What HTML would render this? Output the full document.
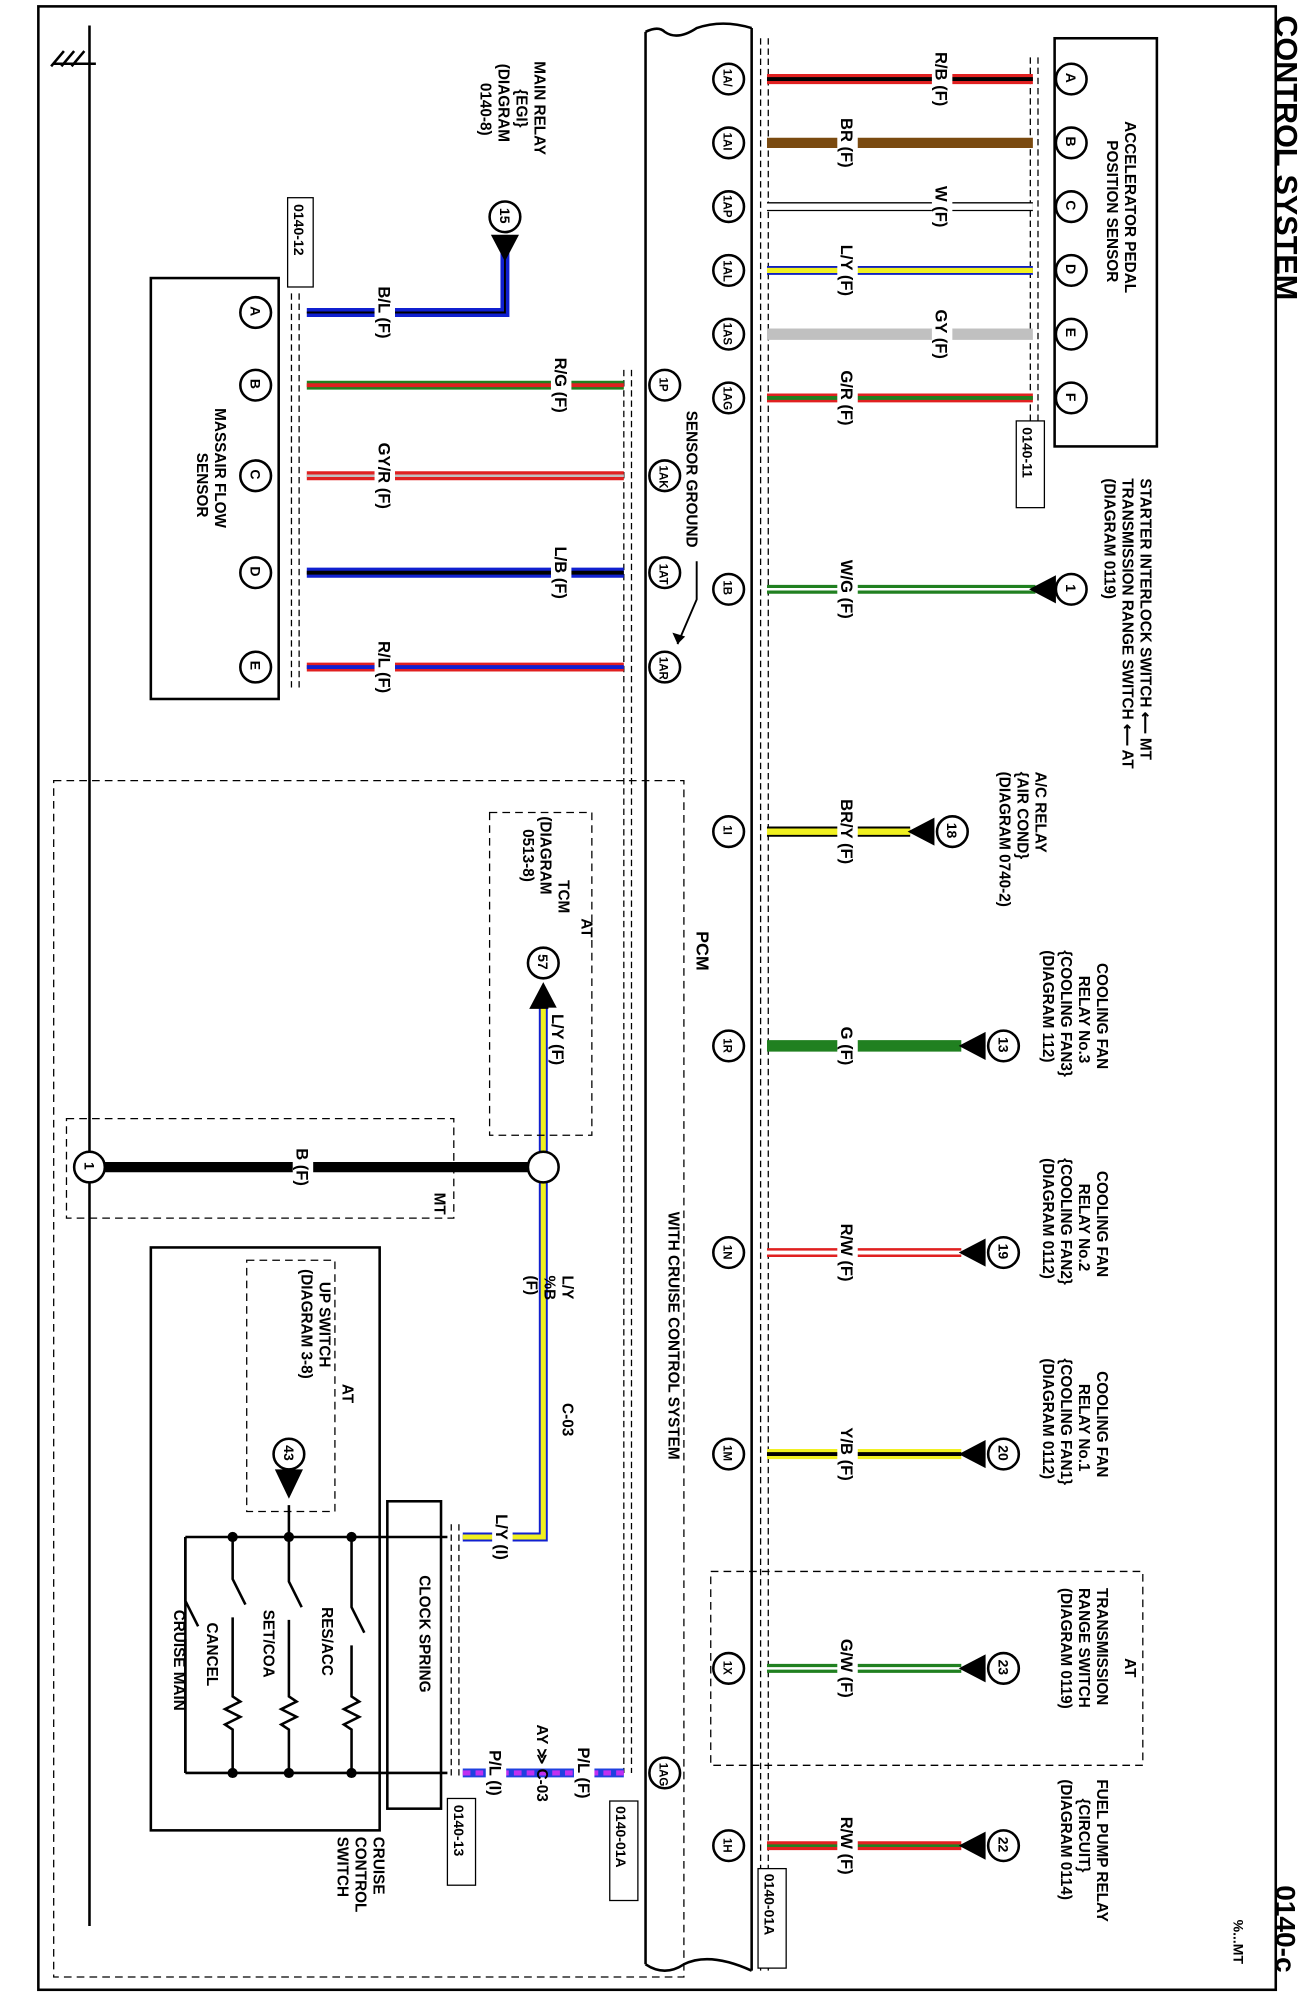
<!DOCTYPE html>
<html><head><meta charset="utf-8"><style>
html,body{margin:0;padding:0;background:#fff;}
svg{display:block;}
text{font-family:"Liberation Sans",sans-serif;font-weight:bold;fill:#000;}
.wl text{text-anchor:middle;}
</style></head><body>
<svg width="1309" height="2000" viewBox="0 0 1024 1568" preserveAspectRatio="none" xmlns="http://www.w3.org/2000/svg">
<rect x="0" y="0" width="1024" height="1568" fill="#fff"/>
<rect x="30" y="5" width="968" height="1555" fill="none" stroke="#000" stroke-width="2"/>
<text font-size="24" font-weight="normal" transform="translate(998,12) rotate(90)">CONTROL SYSTEM</text>
<text font-size="22" font-weight="normal" transform="translate(998,1478) rotate(90)">0140-c</text>
<text font-size="11" font-weight="normal" transform="translate(965,1505) rotate(90)">%...MT</text>
<g stroke="#000" stroke-width="2" fill="none">
<path d="M70,20 V1510"/><path d="M42,50 H75"/><path d="M50,40 L40,52 M58,40 L48,52 M66,40 L56,52"/>
</g>
<g stroke="#000" stroke-width="2" fill="none">
<path d="M505,25 Q515,20 520,25 Q530,32 545,22 Q565,15 588,22"/>
<path d="M505,25 V1540"/><path d="M588,22 V1545"/>
<path d="M505,1540 Q520,1550 535,1540 Q555,1530 588,1545"/>
</g>
<text font-size="14" transform="translate(545,730) rotate(90)">PCM</text>
<text font-size="12" transform="translate(523,950) rotate(90)">WITH CRUISE CONTROL SYSTEM</text>
<text font-size="12" transform="translate(537,322) rotate(90)">SENSOR GROUND</text>
<path d="M545,440 V470 L530,505" stroke="#000" fill="none" stroke-width="1.5"/>
<polygon points="530,505 526,496 536,499" fill="#000"/>
<g stroke="#000" stroke-width="1" stroke-dasharray="5,3" fill="none">
<path d="M595,30 V1545"/><path d="M601,30 V1545"/>
<path d="M488,290 V1390"/><path d="M494,290 V1390"/>
<path d="M228,230 V540"/><path d="M234,230 V540"/>
<path d="M806,45 V330"/><path d="M812,45 V330"/>
<path d="M353,1195 V1395"/><path d="M359,1195 V1395"/>
</g>
<rect x="825" y="30" width="80" height="320" fill="none" stroke="#000" stroke-width="2"/>
<text font-size="12" transform="translate(880,95) rotate(90)">ACCELERATOR PEDAL</text>
<text font-size="12" transform="translate(866,110) rotate(90)">POSITION SENSOR</text>
<rect x="795" y="330" width="22" height="68" fill="#fff" stroke="#000"/>
<text font-size="11" transform="translate(800,335) rotate(90)">0140-11</text>
<g stroke-linecap="butt">
<line x1="600" y1="62" x2="808" y2="62" stroke="#e02020" stroke-width="8"/><line x1="600" y1="62" x2="808" y2="62" stroke="#000" stroke-width="3"/>
<line x1="600" y1="112" x2="808" y2="112" stroke="#7a4a10" stroke-width="8"/>
<line x1="600" y1="162" x2="808" y2="162" stroke="#000" stroke-width="7"/><line x1="600" y1="162" x2="808" y2="162" stroke="#fff" stroke-width="5"/>
<line x1="600" y1="212" x2="808" y2="212" stroke="#1020c0" stroke-width="7"/><line x1="600" y1="212" x2="808" y2="212" stroke="#f0f020" stroke-width="4"/>
<line x1="600" y1="262" x2="808" y2="262" stroke="#c0c0c0" stroke-width="9"/>
<line x1="600" y1="312" x2="808" y2="312" stroke="#e02020" stroke-width="7"/><line x1="600" y1="312" x2="808" y2="312" stroke="#208020" stroke-width="3"/>
<line x1="600" y1="462" x2="810" y2="462" stroke="#208020" stroke-width="7"/><line x1="600" y1="462" x2="810" y2="462" stroke="#fff" stroke-width="2"/>
<line x1="600" y1="652" x2="712" y2="652" stroke="#000" stroke-width="8"/><line x1="600" y1="652" x2="712" y2="652" stroke="#f0f020" stroke-width="5"/>
<line x1="600" y1="820" x2="752" y2="820" stroke="#208020" stroke-width="9"/>
<line x1="600" y1="982" x2="752" y2="982" stroke="#e02020" stroke-width="7"/><line x1="600" y1="982" x2="752" y2="982" stroke="#fff" stroke-width="3"/>
<line x1="600" y1="1140" x2="752" y2="1140" stroke="#f0f020" stroke-width="8"/><line x1="600" y1="1140" x2="752" y2="1140" stroke="#000" stroke-width="3"/>
<line x1="600" y1="1308" x2="752" y2="1308" stroke="#208020" stroke-width="7"/><line x1="600" y1="1308" x2="752" y2="1308" stroke="#fff" stroke-width="2"/>
<line x1="600" y1="1447" x2="752" y2="1447" stroke="#e02020" stroke-width="7"/><line x1="600" y1="1447" x2="752" y2="1447" stroke="#208020" stroke-width="2"/>
</g>
<g fill="#000">
<polygon points="805,462 826,451 826,473"/>
<polygon points="710,652 731,641 731,663"/>
<polygon points="750,820 771,809 771,831"/>
<polygon points="750,982 771,971 771,993"/>
<polygon points="750,1140 771,1129 771,1151"/>
<polygon points="750,1308 771,1297 771,1319"/>
<polygon points="750,1447 771,1436 771,1458"/>
</g>
<g>
<path d="M240,245 H395 V185" fill="none" stroke="#1020d0" stroke-width="7"/><path d="M240,245 H395 V185" fill="none" stroke="#000" stroke-width="1.5"/>
<polygon points="395,205 384,184 406,184" fill="#000"/>
<line x1="240" y1="302" x2="488" y2="302" stroke="#208020" stroke-width="7"/><line x1="240" y1="302" x2="488" y2="302" stroke="#e02020" stroke-width="3"/>
<line x1="240" y1="373" x2="488" y2="373" stroke="#e02020" stroke-width="7"/><line x1="240" y1="373" x2="488" y2="373" stroke="#c0c0c0" stroke-width="2"/>
<line x1="240" y1="449" x2="488" y2="449" stroke="#1020d0" stroke-width="8"/><line x1="240" y1="449" x2="488" y2="449" stroke="#000" stroke-width="3"/>
<line x1="240" y1="523" x2="488" y2="523" stroke="#e02020" stroke-width="7"/><line x1="240" y1="523" x2="488" y2="523" stroke="#1020d0" stroke-width="3"/>
<path d="M425,790 V1205 H362" fill="none" stroke="#1020d0" stroke-width="7"/><path d="M425,790 V1205 H362" fill="none" stroke="#f0f020" stroke-width="4"/>
<line x1="70" y1="915" x2="425" y2="915" stroke="#000" stroke-width="8"/>
<line x1="362" y1="1390" x2="488" y2="1390" stroke="#2040e0" stroke-width="7"/><line x1="362" y1="1390" x2="488" y2="1390" stroke="#c030f0" stroke-width="4" stroke-dasharray="6,4"/>
</g>
<polygon points="425,770 414,791 436,791" fill="#000"/>
<circle cx="425" cy="915" r="12" fill="#fff" stroke="#000" stroke-width="2"/>
<!-- label gaps -->
<g fill="#fff">
<rect x="729" y="37" width="16" height="50"/>
<rect x="655" y="90" width="16" height="44"/>
<rect x="729" y="143" width="16" height="38"/>
<rect x="655" y="188" width="16" height="48"/>
<rect x="729" y="240" width="16" height="44"/>
<rect x="655" y="287" width="16" height="50"/>
<rect x="655" y="436" width="16" height="52"/>
<rect x="655" y="623" width="16" height="58"/>
<rect x="655" y="802" width="16" height="36"/>
<rect x="655" y="956" width="16" height="52"/>
<rect x="655" y="1115" width="16" height="50"/>
<rect x="655" y="1282" width="16" height="52"/>
<rect x="655" y="1421" width="16" height="52"/>
<rect x="293" y="220" width="16" height="50"/>
<rect x="431" y="276" width="16" height="52"/>
<rect x="293" y="343" width="16" height="60"/>
<rect x="431" y="425" width="16" height="48"/>
<rect x="293" y="499" width="16" height="48"/>
<rect x="229" y="897" width="16" height="36"/>
<rect x="385" y="1182" width="16" height="46"/>
<rect x="449" y="1366" width="16" height="48"/>
<rect x="380" y="1368" width="16" height="44"/>
<rect x="429" y="790" width="16" height="50"/>
</g>
<g font-size="13" class="wl">
<text transform="translate(732,62) rotate(90)">R/B (F)</text>
<text transform="translate(658,112) rotate(90)">BR (F)</text>
<text transform="translate(732,162) rotate(90)">W (F)</text>
<text transform="translate(658,212) rotate(90)">L/Y (F)</text>
<text transform="translate(732,262) rotate(90)">GY (F)</text>
<text transform="translate(658,312) rotate(90)">G/R (F)</text>
<text transform="translate(658,462) rotate(90)">W/G (F)</text>
<text transform="translate(658,652) rotate(90)">BR/Y (F)</text>
<text transform="translate(658,820) rotate(90)">G (F)</text>
<text transform="translate(658,982) rotate(90)">R/W (F)</text>
<text transform="translate(658,1140) rotate(90)">Y/B (F)</text>
<text transform="translate(658,1308) rotate(90)">G/W (F)</text>
<text transform="translate(658,1447) rotate(90)">R/W (F)</text>
<text transform="translate(296,245) rotate(90)">B/L (F)</text>
<text transform="translate(434,302) rotate(90)">R/G (F)</text>
<text transform="translate(296,373) rotate(90)">GY/R (F)</text>
<text transform="translate(434,449) rotate(90)">L/B (F)</text>
<text transform="translate(296,523) rotate(90)">R/L (F)</text>
<text transform="translate(232,915) rotate(90)">B (F)</text>
<text transform="translate(388,1205) rotate(90)">L/Y (I)</text>
<text transform="translate(452,1390) rotate(90)">P/L (F)</text>
<text transform="translate(383,1390) rotate(90)">P/L (I)</text>
<text transform="translate(432,815) rotate(90)">L/Y (F)</text>
</g>
<g font-size="12">
<text transform="translate(892,375) rotate(90)">STARTER INTERLOCK SWITCH ⟵ MT</text>
<text transform="translate(878,375) rotate(90)">TRANSMISSION RANGE SWITCH ⟵ AT</text>
<text transform="translate(864,375) rotate(90)">(DIAGRAM 0119)</text>
<text transform="translate(810,605) rotate(90)">A/C RELAY</text>
<text transform="translate(796,605) rotate(90)">{AIR COND}</text>
<text transform="translate(782,605) rotate(90)">(DIAGRAM 0740-2)</text>
<text transform="translate(858,755) rotate(90)">COOLING FAN</text>
<text transform="translate(844,765) rotate(90)">RELAY No.3</text>
<text transform="translate(830,745) rotate(90)">{COOLING FAN3}</text>
<text transform="translate(816,745) rotate(90)">(DIAGRAM 112)</text>
<text transform="translate(858,918) rotate(90)">COOLING FAN</text>
<text transform="translate(844,928) rotate(90)">RELAY No.2</text>
<text transform="translate(830,908) rotate(90)">{COOLING FAN2}</text>
<text transform="translate(816,908) rotate(90)">(DIAGRAM 0112)</text>
<text transform="translate(858,1075) rotate(90)">COOLING FAN</text>
<text transform="translate(844,1085) rotate(90)">RELAY No.1</text>
<text transform="translate(830,1065) rotate(90)">{COOLING FAN1}</text>
<text transform="translate(816,1065) rotate(90)">(DIAGRAM 0112)</text>
<text transform="translate(880,1300) rotate(90)">AT</text>
<text transform="translate(858,1245) rotate(90)">TRANSMISSION</text>
<text transform="translate(844,1245) rotate(90)">RANGE SWITCH</text>
<text transform="translate(830,1245) rotate(90)">(DIAGRAM 0119)</text>
<text transform="translate(858,1395) rotate(90)">FUEL PUMP RELAY</text>
<text transform="translate(844,1410) rotate(90)">{CIRCUIT}</text>
<text transform="translate(830,1395) rotate(90)">(DIAGRAM 0114)</text>
</g>
<rect x="556" y="1232" width="338" height="152" fill="none" stroke="#000" stroke-dasharray="6,4"/>
<g font-size="12">
<text transform="translate(440,1000) rotate(90)">L/Y</text>
<text transform="translate(426,1000) rotate(90)">%B</text>
<text transform="translate(412,1000) rotate(90)">(F)</text>
<text transform="translate(440,1100) rotate(90)">C-03</text>
<text transform="translate(420,1352) rotate(90)">AY ≫ C-03</text>
<text transform="translate(418,48) rotate(90)">MAIN RELAY</text>
<text transform="translate(404,70) rotate(90)">{EGI}</text>
<text transform="translate(390,50) rotate(90)">(DIAGRAM</text>
<text transform="translate(376,65) rotate(90)">0140-8)</text>
<text transform="translate(455,720) rotate(90)">AT</text>
<text transform="translate(437,690) rotate(90)">TCM</text>
<text transform="translate(423,640) rotate(90)">(DIAGRAM</text>
<text transform="translate(409,650) rotate(90)">0513-8)</text>
<text transform="translate(340,935) rotate(90)">MT</text>
<text transform="translate(268,1085) rotate(90)">AT</text>
<text transform="translate(250,1005) rotate(90)">UP SWITCH</text>
<text transform="translate(236,995) rotate(90)">(DIAGRAM 3-8)</text>
<text transform="translate(328,1235) rotate(90)">CLOCK SPRING</text>
<text transform="translate(292,1440) rotate(90)">CRUISE</text>
<text transform="translate(278,1440) rotate(90)">CONTROL</text>
<text transform="translate(264,1440) rotate(90)">SWITCH</text>
<text transform="translate(252,1260) rotate(90)">RES/ACC</text>
<text transform="translate(206,1262) rotate(90)">SET/COA</text>
<text transform="translate(162,1272) rotate(90)">CANCEL</text>
<text transform="translate(136,1262) rotate(90)">CRUISE MAIN</text>
<text transform="translate(168,320) rotate(90)">MASSAIR FLOW</text>
<text transform="translate(154,355) rotate(90)">SENSOR</text>
</g>
<polygon points="226,1175 215,1152 237,1152" fill="#000"/>
<rect x="118" y="218" width="100" height="330" fill="none" stroke="#000" stroke-width="2"/>
<rect x="42" y="612" width="493" height="938" fill="none" stroke="#000" stroke-dasharray="6,4"/>
<rect x="383" y="637" width="80" height="253" fill="none" stroke="#000" stroke-dasharray="6,4"/>
<rect x="52" y="877" width="303" height="78" fill="none" stroke="#000" stroke-dasharray="6,4"/>
<rect x="118" y="978" width="179" height="457" fill="none" stroke="#000" stroke-width="2"/>
<rect x="303" y="1177" width="42" height="241" fill="none" stroke="#000" stroke-width="2"/>
<rect x="193" y="988" width="69" height="197" fill="none" stroke="#000" stroke-dasharray="6,4"/>
<g stroke="#000" stroke-width="2" fill="none">
<path d="M145,1205 V1390"/><path d="M145,1205 H275"/><path d="M145,1390 H350"/><path d="M350,1205 H275"/>
<path d="M275,1205 V1260 L285,1280 M275,1290 V1330 l6,4 -12,6 12,6 -12,6 6,4 V1390"/>
<path d="M226,1180 V1240 L236,1260 M226,1270 V1330 l6,4 -12,6 12,6 -12,6 6,4 V1390"/>
<path d="M182,1205 V1238 L192,1258 M182,1268 V1330 l6,4 -12,6 12,6 -12,6 6,4 V1390"/>
<path d="M145,1205 V1255 L155,1275 M145,1285 V1390"/>
</g>
<g fill="#000"><circle cx="182" cy="1205" r="4"/><circle cx="226" cy="1205" r="4"/><circle cx="275" cy="1205" r="4"/>
<circle cx="182" cy="1390" r="4"/><circle cx="226" cy="1390" r="4"/><circle cx="275" cy="1390" r="4"/></g>
<g font-size="11"><rect x="225" y="155" width="20" height="70" fill="#fff" stroke="#000"/><text transform="translate(230,160) rotate(90)">0140-12</text>
<rect x="350" y="1410" width="22" height="68" fill="#fff" stroke="#000"/><text transform="translate(355,1415) rotate(90)">0140-13</text>
<rect x="477" y="1412" width="22" height="78" fill="#fff" stroke="#000"/><text transform="translate(482,1416) rotate(90)">0140-01A</text>
<rect x="593" y="1465" width="22" height="78" fill="#fff" stroke="#000"/><text transform="translate(598,1469) rotate(90)">0140-01A</text></g>
<g fill="#fff" stroke="#000" stroke-width="2">
<circle cx="570" cy="62" r="12"/><circle cx="570" cy="112" r="12"/><circle cx="570" cy="162" r="12"/><circle cx="570" cy="212" r="12"/><circle cx="570" cy="262" r="12"/><circle cx="570" cy="312" r="12"/>
<circle cx="570" cy="462" r="12"/><circle cx="570" cy="652" r="12"/><circle cx="570" cy="820" r="12"/><circle cx="570" cy="982" r="12"/><circle cx="570" cy="1140" r="12"/><circle cx="570" cy="1308" r="12"/><circle cx="570" cy="1447" r="12"/>
<circle cx="520" cy="302" r="12"/><circle cx="520" cy="373" r="12"/><circle cx="520" cy="449" r="12"/><circle cx="520" cy="523" r="12"/><circle cx="520" cy="1390" r="12"/>
<circle cx="838" cy="62" r="12"/><circle cx="838" cy="112" r="12"/><circle cx="838" cy="162" r="12"/><circle cx="838" cy="212" r="12"/><circle cx="838" cy="262" r="12"/><circle cx="838" cy="312" r="12"/>
<circle cx="200" cy="245" r="12"/><circle cx="200" cy="302" r="12"/><circle cx="200" cy="373" r="12"/><circle cx="200" cy="449" r="12"/><circle cx="200" cy="523" r="12"/>
<circle cx="838" cy="462" r="12"/><circle cx="745" cy="652" r="12"/><circle cx="785" cy="820" r="12"/><circle cx="785" cy="982" r="12"/><circle cx="785" cy="1140" r="12"/><circle cx="785" cy="1308" r="12"/><circle cx="785" cy="1447" r="12"/>
<circle cx="395" cy="170" r="12"/><circle cx="425" cy="755" r="12"/><circle cx="70" cy="915" r="12"/><circle cx="226" cy="1140" r="12"/>
</g>
<g font-size="9">
<text transform="translate(566,54) rotate(90)">1A/</text><text transform="translate(566,104) rotate(90)">1AI</text><text transform="translate(566,153) rotate(90)">1AP</text><text transform="translate(566,204) rotate(90)">1AL</text><text transform="translate(566,253) rotate(90)">1AS</text><text transform="translate(566,303) rotate(90)">1AG</text>
<text transform="translate(566,455) rotate(90)">1B</text><text transform="translate(566,647) rotate(90)">1I</text><text transform="translate(566,814) rotate(90)">1R</text><text transform="translate(566,976) rotate(90)">1N</text><text transform="translate(566,1133) rotate(90)">1M</text><text transform="translate(566,1302) rotate(90)">1X</text><text transform="translate(566,1441) rotate(90)">1H</text>
<text transform="translate(516,296) rotate(90)">1P</text><text transform="translate(516,365) rotate(90)">1AK</text><text transform="translate(516,442) rotate(90)">1AT</text><text transform="translate(516,515) rotate(90)">1AR</text><text transform="translate(516,1382) rotate(90)">1AG</text>
</g>
<g font-size="11">
<text transform="translate(834,57) rotate(90)">A</text><text transform="translate(834,107) rotate(90)">B</text><text transform="translate(834,157) rotate(90)">C</text><text transform="translate(834,207) rotate(90)">D</text><text transform="translate(834,257) rotate(90)">E</text><text transform="translate(834,308) rotate(90)">F</text>
<text transform="translate(196,240) rotate(90)">A</text><text transform="translate(196,297) rotate(90)">B</text><text transform="translate(196,368) rotate(90)">C</text><text transform="translate(196,444) rotate(90)">D</text><text transform="translate(196,518) rotate(90)">E</text>
<text transform="translate(834,458) rotate(90)">1</text><text transform="translate(741,645) rotate(90)">18</text><text transform="translate(781,813) rotate(90)">13</text><text transform="translate(781,975) rotate(90)">19</text><text transform="translate(781,1133) rotate(90)">20</text><text transform="translate(781,1301) rotate(90)">23</text><text transform="translate(781,1440) rotate(90)">22</text>
<text transform="translate(391,163) rotate(90)">15</text><text transform="translate(421,748) rotate(90)">57</text><text transform="translate(66,911) rotate(90)">1</text><text transform="translate(222,1133) rotate(90)">43</text>
</g>
</svg>
</body></html>
